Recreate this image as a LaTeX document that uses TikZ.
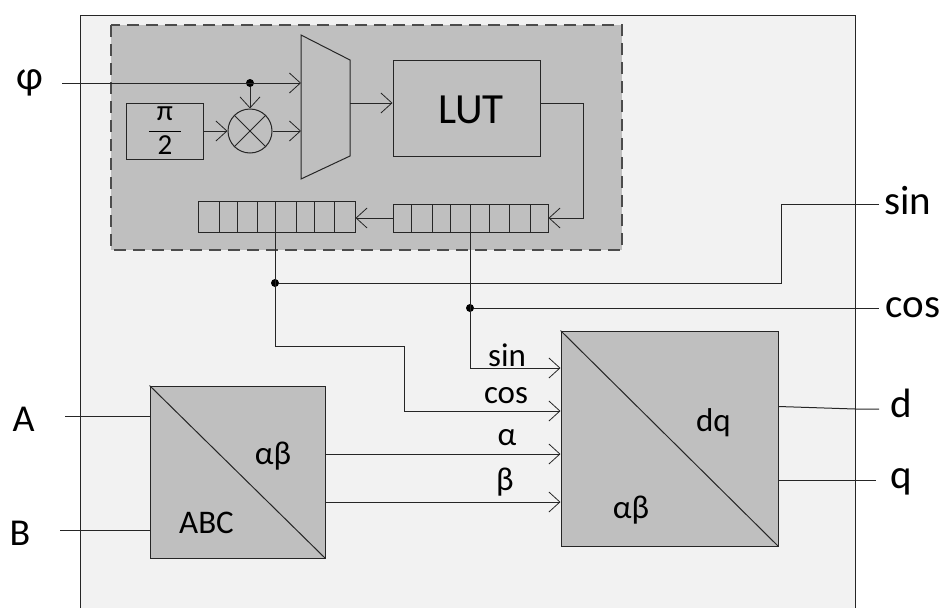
\documentclass[tikz,border=0pt]{standalone}
\usepackage{amsmath}
\usepackage{fontspec}
\setmainfont{Carlito}
\usetikzlibrary{arrows.meta}
\definecolor{panelgray}{HTML}{F2F2F2}
\definecolor{blockgray}{HTML}{BFBFBF}
\tikzset{
  wire/.style={line width=1pt, draw=black!85},
  sig/.style={wire, -{Straight Barb[length=11pt,width=20pt,line width=0.8pt]}},
  blockbox/.style={draw=black!85, line width=1pt, fill=blockgray, inner sep=0pt},
  joint/.style={circle, fill=black, inner sep=0pt, minimum size=8pt},
  biglabel/.style={font=\fontsize{41}{41}\selectfont, inner sep=0pt},
  smalllabel/.style={font=\fontsize{33}{33}\selectfont, inner sep=0pt},
}
\begin{document}
\begin{tikzpicture}[x=1pt, y=-1pt]
\useasboundingbox (0,0) rectangle (941,608);
% outer panel and dashed group
\fill[panelgray] (80,15) rectangle (855,608);
\draw[wire] (80,608) -- (80,15) -- (855,15) -- (855,608);
\draw[blockbox, draw=black!70, line width=1.3pt, dash pattern=on 12pt off 7pt] (111,25) rectangle (622,250);
% phase input and mux
\node[biglabel] (phi) at (30,83) {φ};
\coordinate (phi_in) at (62,83);
\coordinate (mux_a) at (301,35);
\coordinate (mux_b) at (350,60);
\coordinate (mux_c) at (350,156);
\coordinate (mux_d) at (301,179);
\draw[blockbox] (mux_a) -- (mux_b) -- (mux_c) -- (mux_d) -- cycle;
\node[blockbox, minimum width=77pt, minimum height=56pt] (halfpi) at (165,131)
  {\fontsize{29}{29}\selectfont $\dfrac{\text{\hspace{8pt}π\hspace{8pt}}}{\text{\hspace{8pt}2\hspace{8pt}}}$};
\node[blockbox, circle, minimum size=44pt] (mixer) at (250,131) {};
\draw[wire] (mixer.north west) -- (mixer.south east);
\draw[wire] (mixer.north east) -- (mixer.south west);
\node[joint] (phi_dot) at (250,83) {};
\node[blockbox, minimum width=147pt, minimum height=96pt] (lut) at (466.5,108) {};
\node[font=\fontsize{43}{43}\selectfont, inner sep=0pt] (lut_text) at (471,110) {LUT};
% shift registers
\node[blockbox, minimum width=157pt, minimum height=31pt] (regleft) at (276.5,216.5) {};
\foreach \x in {219,237,257,275,296,314,334}
  \draw[wire] (\x,201) -- (\x,232);
\node[blockbox, minimum width=155pt, minimum height=28pt] (regright) at (470.5,218) {};
\foreach \x in {411,432,450,470,489,509,530}
  \draw[wire] (\x,204) -- (\x,232);
% wires in the dashed group
\draw[sig] (phi_in) -- (phi_in -| mux_a);
\draw[sig] (phi_dot) -- (mixer.north);
\draw[sig] (halfpi) -- (mixer.west);
\draw[sig] (mixer.east) -- (mixer.east -| mux_a);
\draw[sig] (350,103) -- (350,103 -| lut.west);
\coordinate (lut_turn) at (583,103);
\draw[sig] (lut.east |- lut_turn) -- (lut_turn) -- (583,218) -- (regright.east);
\draw[sig] (regright.west) -- (regleft.east |- regright.west);
% transform blocks
\node[blockbox, minimum width=175pt, minimum height=172pt] (abc) at (237.5,472) {};
\draw[wire] (abc.north west) -- (abc.south east);
\node[smalllabel] (abc_ab) at (273,456.5) {αβ};
\node[smalllabel] (abc_abc) at (206.5,523) {ABC};
\node[blockbox, minimum width=217pt, minimum height=215pt] (dq) at (669.5,438.5) {};
\draw[wire] (dq.north west) -- (dq.south east);
\node[smalllabel] (dq_dq) at (713.5,423) {dq};
\node[smalllabel] (dq_ab) at (631,510) {αβ};
% sin and cos taps
\coordinate (sin_tap) at (275,232);
\coordinate (cos_tap) at (470,232);
\node[joint] (sin_dot) at (275,283) {};
\node[joint] (cos_dot) at (470,308) {};
\node[biglabel] (sin_out) at (908,200.5) {sin};
\node[biglabel] (cos_out) at (913,307.5) {cos};
\coordinate (sin_end) at (879,204);
\coordinate (cos_end) at (879,308);
\draw[wire] (sin_dot) -- (781,283) -- (781,204) -- (sin_end);
\draw[wire] (cos_dot) -- (cos_end);
\draw[sig] (cos_tap) -- (470,368) -- (470,368 -| dq.west);
\draw[sig] (sin_tap) -- (275,346) -- (404,346) -- (404,411) -- (404,411 -| dq.west);
\node[smalllabel] (lab_sin) at (507,355) {sin};
\node[smalllabel] (lab_cos) at (506,396) {cos};
\node[smalllabel] (lab_alpha) at (507,437.5) {α};
\node[smalllabel] (lab_beta) at (505,482) {β};
\draw[sig] (abc.east |- 0,454) -- (dq.west |- 0,454);
\draw[sig] (abc.east |- 0,502) -- (dq.west |- 0,502);
% inputs and outputs
\node[biglabel, font=\fontsize{38}{38}\selectfont] (in_a) at (23.5,419) {A};
\node[biglabel, font=\fontsize{38}{38}\selectfont] (in_b) at (20,533) {B};
\coordinate (a_in) at (65,416.5);
\coordinate (b_in) at (60,530.5);
\draw[wire] (a_in) -- (a_in -| abc.west);
\draw[wire] (b_in) -- (b_in -| abc.west);
\node[biglabel] (out_d) at (901,403) {d};
\node[biglabel] (out_q) at (901,482) {q};
\coordinate (d_end) at (879,409);
\coordinate (q_end) at (876,480);
\draw[wire] (dq.east |- 0,406.5) -- (855,409) -- (d_end);
\draw[wire] (dq.east |- q_end) -- (q_end);
\end{tikzpicture}
\end{document}
